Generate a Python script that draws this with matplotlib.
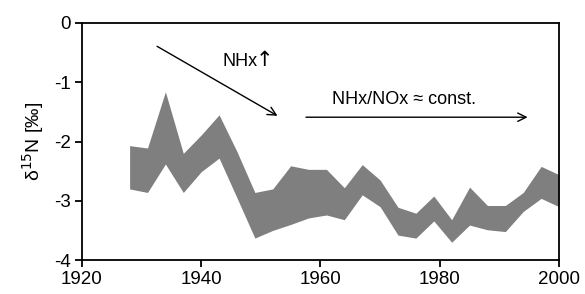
import matplotlib
matplotlib.use('Agg')
import matplotlib.pyplot as plt
import numpy as np

plt.rcParams['font.family'] = ['Liberation Sans', 'DejaVu Sans']

# band data (delta 15N, per mil)
years = [1928, 1931, 1934, 1937, 1940, 1943, 1946, 1949, 1952, 1955, 1958, 1961, 1964,
         1967, 1970, 1973, 1976, 1979, 1982, 1985, 1988, 1991, 1994, 1997, 2000]
upper = [-2.07, -2.11, -1.16, -2.20, -1.89, -1.55, -2.17, -2.86, -2.80, -2.41, -2.47, -2.47, -2.78,
         -2.39, -2.65, -3.11, -3.21, -2.92, -3.32, -2.77, -3.08, -3.08, -2.86, -2.42, -2.56]
lower = [-2.80, -2.86, -2.38, -2.86, -2.51, -2.28, -2.95, -3.63, -3.50, -3.40, -3.29, -3.24, -3.32,
         -2.90, -3.10, -3.58, -3.63, -3.34, -3.70, -3.41, -3.49, -3.52, -3.18, -2.96, -3.10]

xticks = [1920, 1940, 1960, 1980, 2000]
yticks = [0, -1, -2, -3, -4]

fig = plt.figure(figsize=(5.85, 2.94), dpi=100)
ax = fig.add_axes([0.140, 0.1156, 0.8156, 0.8062])

ax.fill_between(years, lower, upper, color='#7f7f7f', linewidth=0)

# annotations
ax.annotate('', xy=(1953.2, -1.59), xytext=(1932.2, -0.37),
            arrowprops=dict(arrowstyle='->', lw=1, color='black', mutation_scale=15))
ax.text(1943.5, -0.65, 'NHx', fontsize=13, ha='left', va='center')
ax.text(1949.2, -0.63, '\u2191', fontsize=15, ha='left', va='center', family='DejaVu Sans')
ax.annotate('', xy=(1995.2, -1.59), xytext=(1957.1, -1.59),
            arrowprops=dict(arrowstyle='->', lw=1, color='black', mutation_scale=15))
ax.text(1974.0, -1.29, 'NHx/NOx \u2248 const.', fontsize=13, ha='center', va='center')

ax.set_xlim(1920, 2000)
ax.set_ylim(-4, 0)
ax.set_xticks(xticks)
ax.set_yticks(yticks)
ax.set_yticklabels([str(v) for v in yticks])
ax.tick_params(direction='out', length=5, width=1.3, labelsize=13.5, pad=3)
for s in ax.spines.values():
    s.set_linewidth(1.3)
ax.set_ylabel('\u03b4$^{15}$N [\u2030]', fontsize=14, labelpad=6)

fig.savefig('out.png', dpi=100)
